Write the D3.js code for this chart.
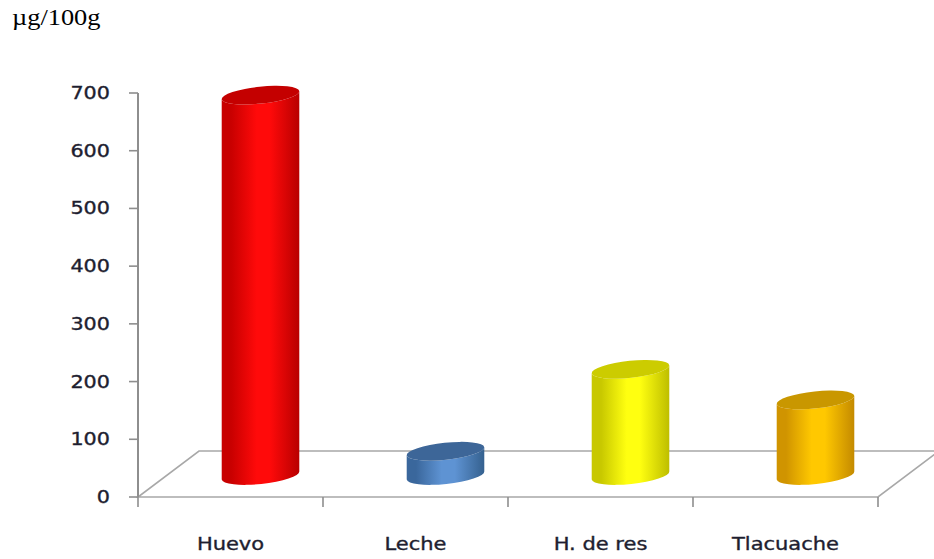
<!DOCTYPE html>
<html>
<head>
<meta charset="utf-8">
<script src="https://cdn.jsdelivr.net/npm/d3@7"></script>
<style>
  html, body { margin: 0; padding: 0; background: #ffffff; }
  svg { display: block; }
</style>
</head>
<body>
<svg id="chart" width="934" height="559"></svg>
<script>
// Data
const categories = ["Huevo", "Leche", "H. de res", "Tlacuache"];
const values = [659, 42, 184, 131];
const yTicks = [0, 100, 200, 300, 400, 500, 600, 700];
const unitLabel = "\u00b5g/100g";

// Cylinder colour sets: [edge, highlight, far edge, top face]
const palettes = [
  ["#c80000", "#ff0a0a", "#b80000", "#c40000"],
  ["#3a679c", "#5e93d3", "#35618f", "#3d6698"],
  ["#c8c800", "#ffff10", "#bebe00", "#cccc00"],
  ["#d09400", "#ffc800", "#c48a00", "#c99700"]
];

const svg = d3.select("#chart");

// Plot frame: front edge of the floor and the depth offset of the 3D box
const left = 138, right = 878;
const y = d3.scaleLinear().domain([0, 700]).range([497, 93]);
const x = d3.scaleBand().domain(categories).range([left, right]).padding(0);
const depth = { dx: 61, dy: -46 };
const mid = { dx: 30, dy: -21.5 };   // cylinders stand in the middle of the floor depth

const floorColor = "#a8a8a8";
const axisColor = "#8e8e8e";
const textColor = "#1e1e30";

// Floor (parallelogram)
const y0 = y(0);
const floor = [
  [left, y0], [right, y0],
  [right + depth.dx, y0 + depth.dy], [left + depth.dx, y0 + depth.dy]
];
svg.append("path")
  .attr("d", "M" + floor.map(p => p.join(",")).join("L") + "Z")
  .attr("fill", "#ffffff")
  .attr("stroke", floorColor)
  .attr("stroke-width", 1.6);

// Gradients for cylinder bodies
const defs = svg.append("defs");
palettes.forEach((p, i) => {
  const g = defs.append("linearGradient")
    .attr("id", "body" + i)
    .attr("x1", "0").attr("x2", "1").attr("y1", "0").attr("y2", "0");
  g.append("stop").attr("offset", "0%").attr("stop-color", p[0]);
  g.append("stop").attr("offset", "12%").attr("stop-color", p[0]);
  g.append("stop").attr("offset", "45%").attr("stop-color", p[1]);
  g.append("stop").attr("offset", "62%").attr("stop-color", p[1]);
  g.append("stop").attr("offset", "100%").attr("stop-color", p[2]);
});

// Cylinders
const rx = 39, ry = 8.5, tilt = -6;
const t = tilt * Math.PI / 180;
const ex = rx * Math.cos(t), ey = rx * Math.sin(t);

categories.forEach((c, i) => {
  const cx = x(c) + x.bandwidth() / 2 + mid.dx;
  const by = y(0) + mid.dy;
  const ty = y(values[i]) + mid.dy;
  const g = svg.append("g");

  const lt = [cx - ex, ty - ey], rt = [cx + ex, ty + ey];
  const lb = [cx - ex, by - ey], rb = [cx + ex, by + ey];

  const d = `M${lt[0]},${lt[1]} L${lb[0]},${lb[1]} ` +
    `A${rx},${ry} ${tilt} 0 0 ${rb[0]},${rb[1]} ` +
    `L${rt[0]},${rt[1]} ` +
    `A${rx},${ry} ${tilt} 0 1 ${lt[0]},${lt[1]} Z`;

  g.append("path")
    .attr("d", d)
    .attr("fill", `url(#body${i})`);

  g.append("ellipse")
    .attr("cx", cx).attr("cy", ty)
    .attr("rx", rx).attr("ry", ry)
    .attr("transform", `rotate(${tilt},${cx},${ty})`)
    .attr("fill", palettes[i][3]);
});

// Y axis
const yAxisG = svg.append("g");
yAxisG.append("line")
  .attr("x1", left).attr("x2", left)
  .attr("y1", y(700)).attr("y2", y(0))
  .attr("stroke", axisColor).attr("stroke-width", 2);
yTicks.forEach(v => {
  yAxisG.append("line")
    .attr("x1", left - 9).attr("x2", left)
    .attr("y1", y(v)).attr("y2", y(v))
    .attr("stroke", axisColor).attr("stroke-width", 1.6);
  yAxisG.append("text")
    .attr("transform", `translate(110,${y(v) + 6}) scale(1.22,1)`)
    .attr("text-anchor", "end")
    .attr("font-family", "DejaVu Sans, Verdana, sans-serif")
    .attr("font-size", 17)
    .attr("fill", textColor)
    .attr("stroke", textColor)
    .attr("stroke-width", 0.35)
    .text(v);
});

// X axis front edge ticks and labels
const xAxisG = svg.append("g");
const bounds = categories.map(c => x(c)).concat([right]);
bounds.forEach(bx => {
  xAxisG.append("line")
    .attr("x1", bx).attr("x2", bx)
    .attr("y1", y0).attr("y2", y0 + 10)
    .attr("stroke", axisColor).attr("stroke-width", 1.6);
});
categories.forEach(c => {
  xAxisG.append("text")
    .attr("transform", `translate(${x(c) + x.bandwidth() / 2},550) scale(1.2,1)`)
    .attr("text-anchor", "middle")
    .attr("font-family", "DejaVu Sans, Verdana, sans-serif")
    .attr("font-size", 17.5)
    .attr("fill", textColor)
    .attr("stroke", textColor)
    .attr("stroke-width", 0.35)
    .text(c);
});

// Unit label
svg.append("text")
  .attr("transform", "translate(12,25) scale(1.1,1)")
  .attr("font-family", "Liberation Serif, Times New Roman, serif")
  .attr("font-size", 24)
  .attr("fill", "#000000")
  .text(unitLabel);
</script>
</body>
</html>
